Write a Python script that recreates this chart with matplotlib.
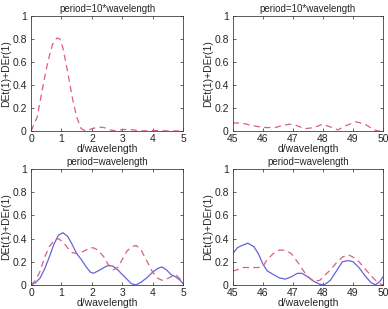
import numpy as np
import matplotlib.pyplot as plt

plt.rcParams['font.family'] = ['Liberation Sans', 'DejaVu Sans']

# period = 10*wavelength, d from 0 to 5 (only DE curve, dashed)
x_tl = [0, 0.2, 0.4, 0.55, 0.7, 0.85, 0.95, 1.05, 1.2, 1.35, 1.5, 1.65, 1.8, 2.0, 2.2, 2.4, 2.6, 2.8, 3.0, 3.2, 3.4, 3.6, 3.8, 4.0, 4.5, 5.0]
r_tl = [0, 0.12, 0.4, 0.6, 0.75, 0.81, 0.8, 0.72, 0.52, 0.3, 0.12, 0.02, 0.0, 0.02, 0.035, 0.03, 0.01, 0.0, 0.012, 0.015, 0.008, 0.0, 0.002, 0.004, 0.001, 0.0]

# period = 10*wavelength, d from 45 to 50
x_tr = [45, 45.3, 45.6, 45.8, 46.1, 46.4, 46.7, 46.9, 47.1, 47.4, 47.7, 48.0, 48.2, 48.5, 48.8, 49.1, 49.4, 49.7, 49.85, 50]
r_tr = [0.07, 0.07, 0.05, 0.04, 0.03, 0.03, 0.05, 0.06, 0.05, 0.02, 0.03, 0.06, 0.04, 0.01, 0.05, 0.08, 0.06, 0.01, 0.0, 0.0]

# period = wavelength, d from 0 to 5
x_bl = [0, 0.15, 0.3, 0.45, 0.6, 0.75, 0.9, 1.05, 1.2, 1.35, 1.5, 1.65, 1.8, 1.95, 2.05, 2.2, 2.4, 2.55, 2.7, 2.85, 3.0, 3.15, 3.3, 3.45, 3.6, 3.8, 4.0, 4.15, 4.3, 4.45, 4.6, 4.75, 4.9, 5.0]
b_bl = [0, 0.02, 0.06, 0.14, 0.24, 0.35, 0.43, 0.45, 0.42, 0.35, 0.27, 0.22, 0.16, 0.11, 0.10, 0.12, 0.15, 0.17, 0.16, 0.13, 0.09, 0.05, 0.01, 0.0, 0.02, 0.06, 0.11, 0.14, 0.155, 0.13, 0.09, 0.07, 0.04, 0.01]
r_bl = [0, 0.04, 0.12, 0.24, 0.33, 0.38, 0.40, 0.37, 0.32, 0.28, 0.27, 0.28, 0.30, 0.32, 0.32, 0.30, 0.24, 0.17, 0.13, 0.15, 0.22, 0.29, 0.33, 0.34, 0.31, 0.21, 0.11, 0.06, 0.04, 0.05, 0.07, 0.09, 0.05, 0.03]

# period = wavelength, d from 45 to 50
x_br = [45, 45.15, 45.3, 45.5, 45.7, 45.85, 46.0, 46.15, 46.35, 46.55, 46.75, 46.95, 47.15, 47.3, 47.5, 47.7, 47.9, 48.05, 48.25, 48.45, 48.65, 48.85, 49.0, 49.2, 49.4, 49.6, 49.75, 49.9, 50]
b_br = [0.27, 0.32, 0.34, 0.36, 0.33, 0.27, 0.18, 0.12, 0.09, 0.06, 0.05, 0.07, 0.10, 0.10, 0.07, 0.03, 0.005, 0.0, 0.04, 0.12, 0.20, 0.21, 0.20, 0.15, 0.08, 0.02, 0.0, 0.03, 0.07]
r_br = [0.12, 0.13, 0.15, 0.15, 0.15, 0.15, 0.16, 0.22, 0.27, 0.30, 0.30, 0.27, 0.20, 0.14, 0.07, 0.03, 0.04, 0.08, 0.13, 0.19, 0.24, 0.26, 0.24, 0.20, 0.14, 0.08, 0.04, 0.01, 0.0]

red = '#d8607a'
blue = '#6464dc'

fig = plt.figure(figsize=(3.88, 3.09), dpi=100)
pos = [[0.080, 0.576, 0.392, 0.372],
       [0.600, 0.576, 0.387, 0.372],
       [0.080, 0.078, 0.392, 0.375],
       [0.600, 0.078, 0.387, 0.375]]
titles = ['period=10*wavelength', 'period=10*wavelength', 'period=wavelength', 'period=wavelength']

axes = [fig.add_axes(p) for p in pos]
dash = (0, (5, 3.5))
axes[0].plot(x_tl, r_tl, color=red, ls=dash, lw=0.9)
axes[1].plot(x_tr, r_tr, color=red, ls=dash, lw=0.9)
axes[2].plot(x_bl, b_bl, '-', color=blue, lw=0.9)
axes[2].plot(x_bl, r_bl, color=red, ls=dash, lw=0.9)
axes[3].plot(x_br, b_br, '-', color=blue, lw=0.9)
axes[3].plot(x_br, r_br, color=red, ls=dash, lw=0.9)

for i, ax in enumerate(axes):
    if i % 2 == 0:
        ax.set_xlim(0, 5)
        ax.set_xticks(range(0, 6))
    else:
        ax.set_xlim(45, 50)
        ax.set_xticks(range(45, 51))
    ax.set_ylim(0, 1)
    ax.set_yticks([0, 0.2, 0.4, 0.6, 0.8, 1])
    ax.set_yticklabels(['0', '0.2', '0.4', '0.6', '0.8', '1'])
    ax.tick_params(direction='in', top=True, right=True, labelsize=7.5, length=2.5, width=0.5, colors='#262626')
    ax.tick_params(axis='x', pad=2.5)
    ax.tick_params(axis='y', pad=3)
    for s in ax.spines.values():
        s.set_linewidth(0.6)
        s.set_color('#404040')
    ax.set_title(titles[i], fontsize=7, pad=3, color='#262626')
    ax.set_xlabel('d/wavelength', fontsize=7.5, labelpad=0, color='#262626')
    ax.set_ylabel('DEt(1)+DEr(1)', fontsize=7.5, labelpad=1, color='#262626')

fig.savefig('out.png', dpi=100)
